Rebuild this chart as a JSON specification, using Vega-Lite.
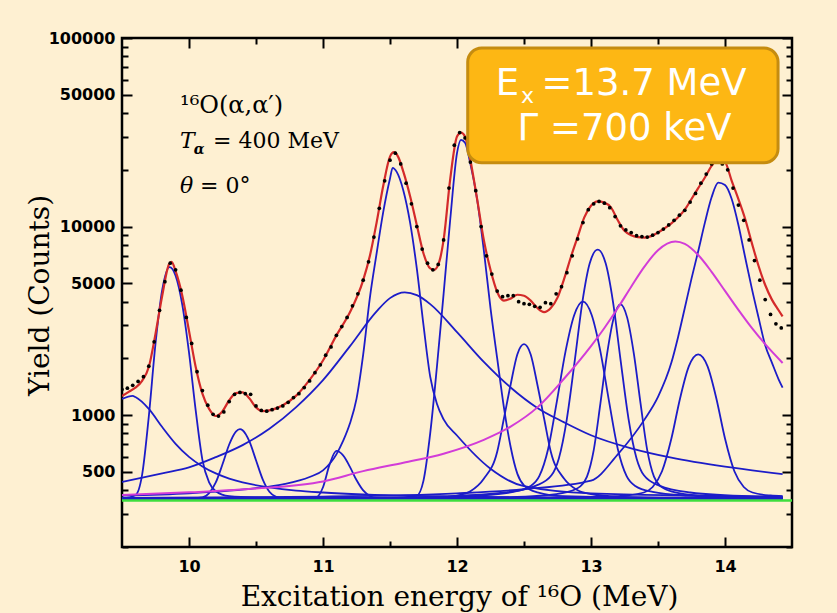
{
"$schema": "https://vega.github.io/schema/vega-lite/v6.json",
"width": 670, "height": 509,
"autosize": "none",
"padding": {"left": 122, "top": 38, "right": 45, "bottom": 66},
"background": "#FEF0D2",
"config": {"view": {"stroke": "black", "strokeWidth": 2.5}},
"data": {"values": [{}]},
"datasets": {
"bg": [{"x":9.5,"y":353},{"x":14.5,"y":353}],
"comp": [
{"c":1,"x":9.5,"y":1220},{"c":1,"x":9.58,"y":1265},{"c":1,"x":9.6,"y":1248},{"c":1,"x":9.7,"y":1080},{"c":1,"x":9.8,"y":865},{"c":1,"x":9.9,"y":705},{"c":1,"x":10.0,"y":601},{"c":1,"x":10.1,"y":535},{"c":1,"x":10.2,"y":491},{"c":1,"x":10.3,"y":461},{"c":1,"x":10.4,"y":440},{"c":1,"x":10.6,"y":414},{"c":1,"x":10.8,"y":398},{"c":1,"x":11.0,"y":389},{"c":1,"x":11.3,"y":380},{"c":1,"x":11.7,"y":373},{"c":1,"x":12.2,"y":369},{"c":1,"x":13.0,"y":365},{"c":1,"x":14.43,"y":362},
{"c":2,"x":9.5,"y":361},{"c":2,"x":9.6,"y":376},{"c":2,"x":9.65,"y":482},{"c":2,"x":9.7,"y":984},{"c":2,"x":9.75,"y":2393},{"c":2,"x":9.8,"y":4617},{"c":2,"x":9.855,"y":6100},{"c":2,"x":9.9,"y":5493},{"c":2,"x":9.95,"y":3844},{"c":2,"x":10.0,"y":2150},{"c":2,"x":10.05,"y":1061},{"c":2,"x":10.1,"y":580},{"c":2,"x":10.15,"y":440},{"c":2,"x":10.2,"y":395},{"c":2,"x":10.3,"y":372},{"c":2,"x":10.5,"y":366},{"c":2,"x":11.0,"y":363},{"c":2,"x":12.0,"y":362},{"c":2,"x":14.43,"y":361},
{"c":3,"x":9.5,"y":361},{"c":3,"x":10.0,"y":362},{"c":3,"x":10.1,"y":366},{"c":3,"x":10.15,"y":386},{"c":3,"x":10.2,"y":440},{"c":3,"x":10.25,"y":549},{"c":3,"x":10.3,"y":699},{"c":3,"x":10.35,"y":819},{"c":3,"x":10.38,"y":843},{"c":3,"x":10.4,"y":832},{"c":3,"x":10.45,"y":728},{"c":3,"x":10.5,"y":577},{"c":3,"x":10.55,"y":457},{"c":3,"x":10.6,"y":393},{"c":3,"x":10.65,"y":369},{"c":3,"x":10.7,"y":362},{"c":3,"x":11.0,"y":361},{"c":3,"x":14.43,"y":361},
{"c":4,"x":9.5,"y":443},{"c":4,"x":9.8,"y":492},{"c":4,"x":10.0,"y":529},{"c":4,"x":10.2,"y":599},{"c":4,"x":10.4,"y":694},{"c":4,"x":10.6,"y":847},{"c":4,"x":10.8,"y":1104},{"c":4,"x":11.0,"y":1534},{"c":4,"x":11.2,"y":2317},{"c":4,"x":11.4,"y":3553},{"c":4,"x":11.5,"y":4175},{"c":4,"x":11.61,"y":4480},{"c":4,"x":11.7,"y":4328},{"c":4,"x":11.8,"y":3882},{"c":4,"x":12.0,"y":2757},{"c":4,"x":12.2,"y":1917},{"c":4,"x":12.4,"y":1403},{"c":4,"x":12.6,"y":1093},{"c":4,"x":12.8,"y":916},{"c":4,"x":13.0,"y":783},{"c":4,"x":13.3,"y":667},{"c":4,"x":13.6,"y":595},{"c":4,"x":14.0,"y":533},{"c":4,"x":14.43,"y":487},
{"c":5,"x":9.5,"y":361},{"c":5,"x":10.8,"y":362},{"c":5,"x":10.95,"y":367},{"c":5,"x":11.0,"y":415},{"c":5,"x":11.05,"y":550},{"c":5,"x":11.1,"y":646},{"c":5,"x":11.15,"y":612},{"c":5,"x":11.2,"y":534},{"c":5,"x":11.25,"y":453},{"c":5,"x":11.3,"y":399},{"c":5,"x":11.35,"y":373},{"c":5,"x":11.4,"y":364},{"c":5,"x":12.0,"y":361},{"c":5,"x":14.43,"y":361},
{"c":6,"x":9.5,"y":375},{"c":6,"x":10.0,"y":385},{"c":6,"x":10.5,"y":410},{"c":6,"x":10.7,"y":430},{"c":6,"x":10.9,"y":470},{"c":6,"x":11.0,"y":510},{"c":6,"x":11.1,"y":620},{"c":6,"x":11.15,"y":730},{"c":6,"x":11.2,"y":900},{"c":6,"x":11.25,"y":1220},{"c":6,"x":11.3,"y":2100},{"c":6,"x":11.35,"y":4200},{"c":6,"x":11.4,"y":7200},{"c":6,"x":11.45,"y":12000},{"c":6,"x":11.5,"y":18000},{"c":6,"x":11.52,"y":20500},{"c":6,"x":11.55,"y":19500},{"c":6,"x":11.6,"y":15500},{"c":6,"x":11.65,"y":10500},{"c":6,"x":11.7,"y":6000},{"c":6,"x":11.75,"y":3000},{"c":6,"x":11.8,"y":1600},{"c":6,"x":11.85,"y":1150},{"c":6,"x":11.9,"y":950},{"c":6,"x":12.0,"y":780},{"c":6,"x":12.25,"y":520},{"c":6,"x":12.5,"y":420},{"c":6,"x":13.0,"y":385},{"c":6,"x":14.43,"y":370},
{"c":7,"x":9.5,"y":362},{"c":7,"x":11.5,"y":363},{"c":7,"x":11.7,"y":375},{"c":7,"x":11.75,"y":450},{"c":7,"x":11.8,"y":800},{"c":7,"x":11.85,"y":1800},{"c":7,"x":11.9,"y":4400},{"c":7,"x":11.95,"y":11000},{"c":7,"x":12.0,"y":24500},{"c":7,"x":12.03,"y":28800},{"c":7,"x":12.06,"y":27800},{"c":7,"x":12.1,"y":21500},{"c":7,"x":12.15,"y":14000},{"c":7,"x":12.2,"y":7500},{"c":7,"x":12.25,"y":3700},{"c":7,"x":12.3,"y":2000},{"c":7,"x":12.35,"y":1100},{"c":7,"x":12.4,"y":680},{"c":7,"x":12.45,"y":490},{"c":7,"x":12.5,"y":425},{"c":7,"x":12.6,"y":390},{"c":7,"x":12.8,"y":372},{"c":7,"x":13.5,"y":365},{"c":7,"x":14.43,"y":363},
{"c":8,"x":9.5,"y":361},{"c":8,"x":11.5,"y":363},{"c":8,"x":11.9,"y":368},{"c":8,"x":12.0,"y":375},{"c":8,"x":12.1,"y":395},{"c":8,"x":12.2,"y":460},{"c":8,"x":12.3,"y":640},{"c":8,"x":12.35,"y":960},{"c":8,"x":12.4,"y":1450},{"c":8,"x":12.45,"y":2100},{"c":8,"x":12.5,"y":2380},{"c":8,"x":12.55,"y":2100},{"c":8,"x":12.6,"y":1450},{"c":8,"x":12.65,"y":960},{"c":8,"x":12.7,"y":640},{"c":8,"x":12.8,"y":460},{"c":8,"x":12.9,"y":400},{"c":8,"x":13.0,"y":382},{"c":8,"x":13.2,"y":370},{"c":8,"x":13.6,"y":365},{"c":8,"x":14.43,"y":362},
{"c":9,"x":9.5,"y":362},{"c":9,"x":11.0,"y":363},{"c":9,"x":11.64,"y":365},{"c":9,"x":12.16,"y":375},{"c":9,"x":12.42,"y":392},{"c":9,"x":12.55,"y":421},{"c":9,"x":12.615,"y":476},{"c":9,"x":12.68,"y":662},{"c":9,"x":12.745,"y":1179},{"c":9,"x":12.81,"y":2180},{"c":9,"x":12.875,"y":3399},{"c":9,"x":12.94,"y":4000},{"c":9,"x":13.005,"y":3399},{"c":9,"x":13.07,"y":2180},{"c":9,"x":13.135,"y":1179},{"c":9,"x":13.2,"y":662},{"c":9,"x":13.265,"y":476},{"c":9,"x":13.33,"y":421},{"c":9,"x":13.46,"y":392},{"c":9,"x":13.72,"y":375},{"c":9,"x":14.24,"y":365},{"c":9,"x":14.43,"y":364},
{"c":10,"x":9.5,"y":362},{"c":10,"x":11.5,"y":366},{"c":10,"x":11.9,"y":371},{"c":10,"x":12.36,"y":389},{"c":10,"x":12.59,"y":423},{"c":10,"x":12.705,"y":480},{"c":10,"x":12.76,"y":590},{"c":10,"x":12.82,"y":957},{"c":10,"x":12.88,"y":1978},{"c":10,"x":12.935,"y":3955},{"c":10,"x":12.99,"y":6364},{"c":10,"x":13.05,"y":7550},{"c":10,"x":13.11,"y":6364},{"c":10,"x":13.165,"y":3955},{"c":10,"x":13.22,"y":1978},{"c":10,"x":13.28,"y":957},{"c":10,"x":13.34,"y":590},{"c":10,"x":13.395,"y":480},{"c":10,"x":13.51,"y":423},{"c":10,"x":13.74,"y":389},{"c":10,"x":14.2,"y":371},{"c":10,"x":14.43,"y":369},
{"c":11,"x":9.5,"y":361},{"c":11,"x":11.5,"y":362},{"c":11,"x":12.22,"y":365},{"c":11,"x":12.62,"y":374},{"c":11,"x":12.82,"y":391},{"c":11,"x":12.92,"y":419},{"c":11,"x":12.97,"y":472},{"c":11,"x":13.02,"y":651},{"c":11,"x":13.07,"y":1150},{"c":11,"x":13.12,"y":2115},{"c":11,"x":13.17,"y":3291},{"c":11,"x":13.22,"y":3870},{"c":11,"x":13.27,"y":3291},{"c":11,"x":13.32,"y":2115},{"c":11,"x":13.37,"y":1150},{"c":11,"x":13.42,"y":651},{"c":11,"x":13.47,"y":472},{"c":11,"x":13.52,"y":419},{"c":11,"x":13.62,"y":391},{"c":11,"x":13.82,"y":374},{"c":11,"x":14.22,"y":365},{"c":11,"x":14.43,"y":364},
{"c":12,"x":9.5,"y":361},{"c":12,"x":12.0,"y":362},{"c":12,"x":12.99,"y":367},{"c":12,"x":13.26,"y":375},{"c":12,"x":13.395,"y":389},{"c":12,"x":13.46,"y":416},{"c":12,"x":13.53,"y":504},{"c":12,"x":13.6,"y":752},{"c":12,"x":13.665,"y":1230},{"c":12,"x":13.73,"y":1813},{"c":12,"x":13.8,"y":2100},{"c":12,"x":13.87,"y":1813},{"c":12,"x":13.935,"y":1230},{"c":12,"x":14.0,"y":752},{"c":12,"x":14.07,"y":504},{"c":12,"x":14.14,"y":416},{"c":12,"x":14.205,"y":389},{"c":12,"x":14.34,"y":375},{"c":12,"x":14.43,"y":372},
{"c":13,"x":9.5,"y":364},{"c":13,"x":11.0,"y":370},{"c":13,"x":12.0,"y":385},{"c":13,"x":12.5,"y":405},{"c":13,"x":13.0,"y":450},{"c":13,"x":13.2,"y":620},{"c":13,"x":13.4,"y":950},{"c":13,"x":13.5,"y":1250},{"c":13,"x":13.6,"y":1900},{"c":13,"x":13.65,"y":2600},{"c":13,"x":13.7,"y":3700},{"c":13,"x":13.75,"y":5300},{"c":13,"x":13.8,"y":7400},{"c":13,"x":13.85,"y":10500},{"c":13,"x":13.9,"y":14300},{"c":13,"x":13.95,"y":17100},{"c":13,"x":14.0,"y":16600},{"c":13,"x":14.05,"y":14000},{"c":13,"x":14.1,"y":10200},{"c":13,"x":14.15,"y":6900},{"c":13,"x":14.2,"y":4700},{"c":13,"x":14.25,"y":3300},{"c":13,"x":14.3,"y":2350},{"c":13,"x":14.35,"y":1900},{"c":13,"x":14.4,"y":1550},{"c":13,"x":14.43,"y":1400}
],
"mag": [
{"x":9.5,"y":377},{"x":10.0,"y":390},{"x":10.5,"y":408},{"x":11.0,"y":445},{"x":11.3,"y":505},{"x":11.6,"y":560},{"x":11.9,"y":625},{"x":12.2,"y":740},{"x":12.4,"y":870},{"x":12.6,"y":1100},{"x":12.8,"y":1565},{"x":13.0,"y":2325},{"x":13.1,"y":2900},{"x":13.2,"y":3700},{"x":13.3,"y":4800},{"x":13.4,"y":6150},{"x":13.5,"y":7500},{"x":13.63,"y":8340},{"x":13.7,"y":8093},{"x":13.8,"y":7066},{"x":13.9,"y":5755},{"x":14.0,"y":4560},{"x":14.1,"y":3617},{"x":14.2,"y":2902},{"x":14.3,"y":2380},{"x":14.43,"y":1892}
],
"fit": [
{"x":9.5,"y":1262},{"x":9.55,"y":1330},{"x":9.6,"y":1400},{"x":9.65,"y":1520},{"x":9.7,"y":1800},{"x":9.75,"y":2700},{"x":9.8,"y":4300},{"x":9.85,"y":6300},{"x":9.87,"y":6500},{"x":9.9,"y":5800},{"x":9.95,"y":4300},{"x":10.0,"y":2800},{"x":10.05,"y":1800},{"x":10.1,"y":1300},{"x":10.15,"y":1080},{"x":10.2,"y":990},{"x":10.25,"y":1050},{"x":10.3,"y":1200},{"x":10.35,"y":1310},{"x":10.4,"y":1320},{"x":10.45,"y":1230},{"x":10.5,"y":1100},{"x":10.55,"y":1050},{"x":10.6,"y":1060},{"x":10.7,"y":1130},{"x":10.8,"y":1270},{"x":10.9,"y":1540},{"x":11.0,"y":1950},{"x":11.1,"y":2650},{"x":11.2,"y":3500},{"x":11.3,"y":5200},{"x":11.35,"y":7000},{"x":11.4,"y":10500},{"x":11.45,"y":16500},{"x":11.5,"y":23500},{"x":11.53,"y":24800},{"x":11.56,"y":23500},{"x":11.6,"y":19500},{"x":11.65,"y":14500},{"x":11.7,"y":10200},{"x":11.75,"y":7200},{"x":11.8,"y":6000},{"x":11.83,"y":5900},{"x":11.87,"y":6600},{"x":11.9,"y":8500},{"x":11.95,"y":18000},{"x":12.0,"y":30000},{"x":12.03,"y":31500},{"x":12.06,"y":30000},{"x":12.1,"y":22500},{"x":12.15,"y":14000},{"x":12.2,"y":8500},{"x":12.25,"y":5900},{"x":12.3,"y":4500},{"x":12.35,"y":4050},{"x":12.4,"y":4150},{"x":12.45,"y":4350},{"x":12.5,"y":4300},{"x":12.55,"y":4050},{"x":12.6,"y":3700},{"x":12.65,"y":3520},{"x":12.7,"y":3700},{"x":12.75,"y":4200},{"x":12.8,"y":5300},{"x":12.85,"y":6900},{"x":12.9,"y":8800},{"x":12.95,"y":11200},{"x":13.0,"y":12900},{"x":13.05,"y":13600},{"x":13.1,"y":13400},{"x":13.15,"y":12600},{"x":13.2,"y":10800},{"x":13.25,"y":9500},{"x":13.3,"y":9000},{"x":13.35,"y":8800},{"x":13.4,"y":8750},{"x":13.45,"y":8900},{"x":13.5,"y":9300},{"x":13.55,"y":9800},{"x":13.6,"y":10400},{"x":13.65,"y":11200},{"x":13.7,"y":12300},{"x":13.75,"y":14000},{"x":13.8,"y":16000},{"x":13.85,"y":18200},{"x":13.9,"y":21000},{"x":13.95,"y":22800},{"x":14.0,"y":22000},{"x":14.05,"y":17500},{"x":14.1,"y":14000},{"x":14.15,"y":11000},{"x":14.2,"y":8200},{"x":14.25,"y":6200},{"x":14.3,"y":4900},{"x":14.35,"y":4100},{"x":14.4,"y":3600},{"x":14.43,"y":3340}
],
"obs": [
{"x":9.5,"y":1370},{"x":9.54,"y":1390},{"x":9.58,"y":1440},{"x":9.62,"y":1510},{"x":9.66,"y":1600},{"x":9.7,"y":1820},{"x":9.74,"y":2450},{"x":9.78,"y":3600},{"x":9.82,"y":5100},{"x":9.86,"y":6400},{"x":9.9,"y":5900},{"x":9.94,"y":4600},{"x":9.98,"y":3300},{"x":10.02,"y":2400},{"x":10.06,"y":1700},{"x":10.1,"y":1350},{"x":10.14,"y":1130},{"x":10.18,"y":1010},{"x":10.22,"y":990},{"x":10.26,"y":1040},{"x":10.3,"y":1180},{"x":10.34,"y":1290},{"x":10.38,"y":1320},{"x":10.42,"y":1300},{"x":10.46,"y":1290},{"x":10.5,"y":1120},{"x":10.54,"y":1060},{"x":10.58,"y":1050},{"x":10.62,"y":1070},{"x":10.66,"y":1090},{"x":10.7,"y":1120},{"x":10.74,"y":1170},{"x":10.78,"y":1240},{"x":10.82,"y":1300},{"x":10.86,"y":1400},{"x":10.9,"y":1520},{"x":10.94,"y":1680},{"x":10.98,"y":1850},{"x":11.02,"y":2080},{"x":11.06,"y":2300},{"x":11.1,"y":2650},{"x":11.14,"y":2950},{"x":11.18,"y":3300},{"x":11.22,"y":3800},{"x":11.26,"y":4400},{"x":11.3,"y":5200},{"x":11.34,"y":6500},{"x":11.38,"y":8800},{"x":11.42,"y":12500},{"x":11.46,"y":17500},{"x":11.5,"y":22500},{"x":11.54,"y":24500},{"x":11.58,"y":21500},{"x":11.62,"y":17000},{"x":11.66,"y":13200},{"x":11.7,"y":10000},{"x":11.74,"y":7600},{"x":11.78,"y":6400},{"x":11.82,"y":5900},{"x":11.86,"y":6300},{"x":11.9,"y":8500},{"x":11.94,"y":16000},{"x":11.98,"y":27000},{"x":12.02,"y":31500},{"x":12.06,"y":29500},{"x":12.1,"y":22000},{"x":12.14,"y":15500},{"x":12.18,"y":10000},{"x":12.22,"y":7000},{"x":12.26,"y":5600},{"x":12.3,"y":4550},{"x":12.34,"y":4250},{"x":12.38,"y":4300},{"x":12.42,"y":4300},{"x":12.46,"y":4000},{"x":12.5,"y":3900},{"x":12.54,"y":3870},{"x":12.58,"y":3780},{"x":12.62,"y":3730},{"x":12.66,"y":3950},{"x":12.7,"y":3900},{"x":12.74,"y":4400},{"x":12.78,"y":4800},{"x":12.82,"y":5700},{"x":12.86,"y":7000},{"x":12.9,"y":8600},{"x":12.94,"y":10500},{"x":12.98,"y":12300},{"x":13.02,"y":13200},{"x":13.06,"y":13600},{"x":13.1,"y":13300},{"x":13.14,"y":12600},{"x":13.18,"y":11300},{"x":13.22,"y":10100},{"x":13.26,"y":9600},{"x":13.3,"y":9300},{"x":13.34,"y":8950},{"x":13.38,"y":8850},{"x":13.42,"y":8800},{"x":13.46,"y":9000},{"x":13.5,"y":9300},{"x":13.54,"y":9700},{"x":13.58,"y":10200},{"x":13.62,"y":10800},{"x":13.66,"y":11500},{"x":13.7,"y":12200},{"x":13.74,"y":13500},{"x":13.78,"y":15000},{"x":13.82,"y":17000},{"x":13.86,"y":19000},{"x":13.9,"y":21500},{"x":13.94,"y":22500},{"x":13.98,"y":21500},{"x":14.02,"y":20000},{"x":14.06,"y":16000},{"x":14.1,"y":13000},{"x":14.14,"y":10800},{"x":14.18,"y":8500},{"x":14.22,"y":6600},{"x":14.26,"y":5200},{"x":14.3,"y":4100},{"x":14.34,"y":3420},{"x":14.38,"y":3050},{"x":14.42,"y":2900}
]
},
"layer": [
{
"data": {"name": "comp"},
"mark": {"type": "line", "color": "#1c1cc8", "strokeWidth": 1.8, "interpolate": "monotone", "clip": true},
"encoding": {
"x": {"field": "x", "type": "quantitative", "scale": {"domain": [9.5, 14.5], "nice": false, "zero": false},
"axis": {"orient": "bottom", "values": [10,10.5,11,11.5,12,12.5,13,13.5,14],
"labelExpr": "datum.value % 1 === 0 ? format(datum.value, 'd') : ''", "labelOverlap": false, "labelFlush": false,
"labelFont": "DejaVu Sans", "labelFontWeight": "bold", "labelFontSize": 16, "labelColor": "black", "labelPadding": 21,
"tickSize": {"condition": {"test": "datum.value % 1 === 0", "value": -10}, "value": -6},
"tickWidth": 2, "tickColor": "black", "domain": false, "grid": false,
"title": "Excitation energy of ¹⁶O (MeV)", "titleFont": "DejaVu Serif", "titleFontSize": 28, "titleFontWeight": "normal", "titleColor": "black",
"titleX": 337, "titleY": 58, "titleAlign": "center", "titleBaseline": "alphabetic"}},
"y": {"field": "y", "type": "quantitative", "scale": {"type": "log", "domain": [200, 100000], "nice": false},
"axis": {"orient": "left", "values": [200,300,400,500,600,700,800,900,1000,2000,3000,4000,5000,6000,7000,8000,9000,10000,20000,30000,40000,50000,60000,70000,80000,90000,100000],
"labelExpr": "indexof([500,1000,5000,10000,50000,100000], datum.value) >= 0 ? format(datum.value, 'd') : ''", "labelOverlap": false,
"labelFont": "DejaVu Sans", "labelFontWeight": "bold", "labelFontSize": 16, "labelColor": "black", "labelPadding": 17,
"tickSize": {"condition": {"test": "indexof([500,1000,5000,10000,50000,100000], datum.value) >= 0", "value": -10}, "value": -6},
"tickWidth": 2, "tickColor": "black", "domain": false, "grid": false,
"title": "Yield (Counts)", "titleFont": "DejaVu Serif", "titleFontSize": 28, "titleFontWeight": "normal", "titleColor": "black",
"titleX": -82, "titleY": 257, "titleAngle": 270, "titleAlign": "center", "titleBaseline": "middle"}},
"detail": {"field": "c", "type": "nominal"}
}
},
{
"data": {"name": "bg"},
"mark": {"type": "line", "color": "#3ede3e", "strokeWidth": 2.5},
"encoding": {
"x": {"field": "x", "type": "quantitative",
"axis": {"orient": "top", "values": [10,10.5,11,11.5,12,12.5,13,13.5,14], "labels": false, "title": null,
"tickSize": {"condition": {"test": "datum.value % 1 === 0", "value": -10}, "value": -6},
"tickWidth": 2, "tickColor": "black", "domain": false, "grid": false}},
"y": {"field": "y", "type": "quantitative",
"axis": {"orient": "right", "values": [200,300,400,500,600,700,800,900,1000,2000,3000,4000,5000,6000,7000,8000,9000,10000,20000,30000,40000,50000,60000,70000,80000,90000,100000], "labels": false, "title": null,
"tickSize": {"condition": {"test": "indexof([500,1000,5000,10000,50000,100000], datum.value) >= 0", "value": -10}, "value": -6},
"tickWidth": 2, "tickColor": "black", "domain": false, "grid": false}}
}
},
{
"data": {"name": "mag"},
"mark": {"type": "line", "color": "#d23cd8", "strokeWidth": 2, "interpolate": "monotone", "clip": true},
"encoding": {
"x": {"field": "x", "type": "quantitative", "axis": null},
"y": {"field": "y", "type": "quantitative", "axis": null}
}
},
{
"data": {"name": "fit"},
"mark": {"type": "line", "color": "#d42a2a", "strokeWidth": 2.2, "interpolate": "monotone", "clip": true},
"encoding": {
"x": {"field": "x", "type": "quantitative", "axis": null},
"y": {"field": "y", "type": "quantitative", "axis": null}
}
},
{
"data": {"name": "obs"},
"mark": {"type": "point", "filled": true, "color": "black", "size": 14, "opacity": 1, "clip": true},
"encoding": {
"x": {"field": "x", "type": "quantitative", "axis": null},
"y": {"field": "y", "type": "quantitative", "axis": null}
}
},
{
"mark": {"type": "rect", "fill": "#FDB714", "stroke": "#C58C10", "strokeWidth": 3, "cornerRadius": 14},
"encoding": {
"x": {"datum": 12.08, "type": "quantitative", "axis": null},
"x2": {"datum": 14.396},
"y": {"datum": 88500, "type": "quantitative", "axis": null},
"y2": {"datum": 21810}
}
},
{
"mark": {"type": "text", "font": "DejaVu Sans", "fontSize": 37, "color": "white", "align": "left", "baseline": "alphabetic"},
"encoding": {
"x": {"datum": 12.29, "type": "quantitative", "axis": null},
"y": {"datum": 49900, "type": "quantitative", "axis": null},
"text": {"value": "E"}
}
},
{
"mark": {"type": "text", "font": "DejaVu Sans", "fontSize": 22, "color": "white", "align": "left", "baseline": "alphabetic"},
"encoding": {
"x": {"datum": 12.478, "type": "quantitative", "axis": null},
"y": {"datum": 45300, "type": "quantitative", "axis": null},
"text": {"value": "x"}
}
},
{
"mark": {"type": "text", "font": "DejaVu Sans", "fontSize": 37, "color": "white", "align": "left", "baseline": "alphabetic"},
"encoding": {
"x": {"datum": 12.63, "type": "quantitative", "axis": null},
"y": {"datum": 49900, "type": "quantitative", "axis": null},
"text": {"value": "=13.7 MeV"}
}
},
{
"mark": {"type": "text", "font": "DejaVu Sans", "fontSize": 37, "color": "white", "align": "center", "baseline": "alphabetic"},
"encoding": {
"x": {"datum": 13.25, "type": "quantitative", "axis": null},
"y": {"datum": 28800, "type": "quantitative", "axis": null},
"text": {"value": "Γ =700 keV"}
}
},
{
"mark": {"type": "text", "font": "DejaVu Serif", "fontSize": 24, "color": "black", "align": "left", "baseline": "alphabetic"},
"encoding": {
"x": {"datum": 9.933, "type": "quantitative", "axis": null},
"y": {"datum": 40100, "type": "quantitative", "axis": null},
"text": {"value": "¹⁶O(α,α′)"}
}
},
{
"mark": {"type": "text", "font": "DejaVu Serif", "fontSize": 22, "fontStyle": "italic", "color": "black", "align": "left", "baseline": "alphabetic"},
"encoding": {
"x": {"datum": 9.933, "type": "quantitative", "axis": null},
"y": {"datum": 26200, "type": "quantitative", "axis": null},
"text": {"value": "T"}
}
},
{
"mark": {"type": "text", "font": "DejaVu Serif", "fontSize": 14, "fontStyle": "italic", "fontWeight": "bold", "color": "black", "align": "left", "baseline": "alphabetic"},
"encoding": {
"x": {"datum": 10.035, "type": "quantitative", "axis": null},
"y": {"datum": 24400, "type": "quantitative", "axis": null},
"text": {"value": "α"}
}
},
{
"mark": {"type": "text", "font": "DejaVu Serif", "fontSize": 22, "color": "black", "align": "left", "baseline": "alphabetic"},
"encoding": {
"x": {"datum": 10.179, "type": "quantitative", "axis": null},
"y": {"datum": 26200, "type": "quantitative", "axis": null},
"text": {"value": "= 400 MeV"}
}
},
{
"mark": {"type": "text", "font": "DejaVu Serif", "fontSize": 22, "fontStyle": "italic", "color": "black", "align": "left", "baseline": "alphabetic"},
"encoding": {
"x": {"datum": 9.933, "type": "quantitative", "axis": null},
"y": {"datum": 15100, "type": "quantitative", "axis": null},
"text": {"value": "θ"}
}
},
{
"mark": {"type": "text", "font": "DejaVu Serif", "fontSize": 22, "color": "black", "align": "left", "baseline": "alphabetic"},
"encoding": {
"x": {"datum": 10.082, "type": "quantitative", "axis": null},
"y": {"datum": 15100, "type": "quantitative", "axis": null},
"text": {"value": "= 0°"}
}
}
],
"resolve": {"axis": {"x": "independent", "y": "independent"}}
}
